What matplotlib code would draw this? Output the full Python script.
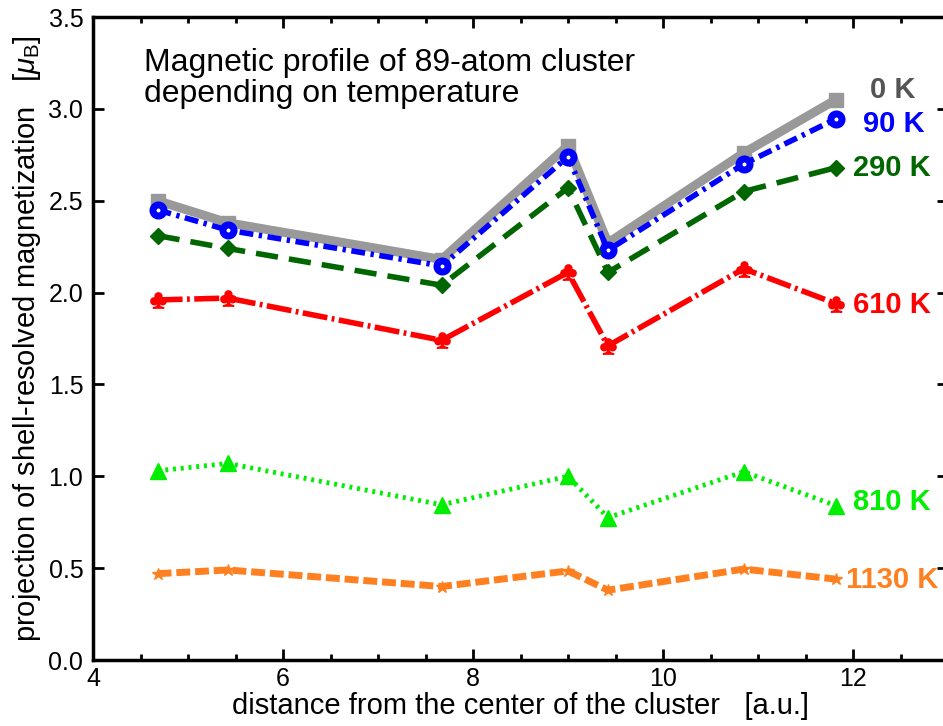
"""Magnetic profile of an 89-atom cluster for several temperatures."""

from matplotlib import pyplot
from matplotlib.ticker import MultipleLocator

# Distance of each shell from the cluster center [a.u.].
distance = [4.68, 5.42, 7.67, 9.0, 9.42, 10.85, 11.82]

# Shell-resolved magnetization [mu_B] for each temperature.
m_0K = [2.50, 2.38, 2.18, 2.80, 2.27, 2.76, 3.05]
m_90K = [2.45, 2.34, 2.145, 2.74, 2.23, 2.70, 2.945]
m_290K = [2.31, 2.24, 2.04, 2.57, 2.11, 2.55, 2.68]
m_610K = [1.96, 1.97, 1.74, 2.11, 1.71, 2.13, 1.94]
m_810K = [1.03, 1.07, 0.845, 1.00, 0.775, 1.025, 0.84]
m_1130K = [0.47, 0.49, 0.40, 0.485, 0.38, 0.495, 0.44]

labels = ['0 K', '90 K', '290 K', '610 K', '810 K', '1130 K']

pyplot.rc('font', family=['Liberation Sans', 'DejaVu Sans'], size=18)
pyplot.rc('mathtext', fontset='custom', rm='Liberation Sans',
          it='Liberation Sans:italic')

fig = pyplot.figure(figsize=(9.43, 7.26), dpi=100)
ax = fig.add_axes([93 / 943, 66 / 726, 855 / 943, 643 / 726])

ax.plot(distance, m_0K, color='#999999', linewidth=6.5,
        marker='s', markersize=10, zorder=2)
ax.plot(distance, m_90K, color='blue', linewidth=4.0,
        dashes=(2.5, 1, 0.6, 1), marker='o', markersize=8,
        markerfacecolor='white', markeredgewidth=5.0, zorder=3)
ax.plot(distance, m_290K, color='#006600', linewidth=4.0,
        dashes=(4, 2), marker='D', markersize=8, zorder=3)
ax.plot(distance, m_610K, color='red', linewidth=4.0,
        dashes=(4.5, 0.8, 0.5, 0.8), marker=r'$\clubsuit$', markersize=11,
        zorder=3)
ax.plot(distance, m_810K, color='#00ee00', linewidth=3.5,
        dashes=(0.6, 1.0), marker='^', markersize=11, zorder=3)
ax.plot(distance, m_1130K, color='#ff8020', linewidth=5.0,
        dashes=(2, 0.7), marker='*', markersize=9, zorder=3)

# Temperature labels on the right.
label_x = [12.18, 12.1, 12.0, 12.0, 12.0, 11.93]
label_y = [3.10, 2.92, 2.68, 1.93, 0.86, 0.435]
label_colors = ['#555555', 'blue', '#006600', 'red', '#00ee00', '#ff8020']
for text, xt, yt, c in zip(labels, label_x, label_y, label_colors):
    ax.text(xt, yt, text, color=c, fontsize=21, fontweight='bold',
            va='center', ha='left')

ax.text(4.54, 3.33, 'Magnetic profile of 89-atom cluster\n'
        'depending on temperature', fontsize=23, va='top', ha='left',
        linespacing=1.05)

ax.set_xlim(4.0, 13.0)
ax.set_ylim(0.0, 3.5)
ax.xaxis.set_major_locator(MultipleLocator(2))
ax.xaxis.set_minor_locator(MultipleLocator(0.5))
ax.yaxis.set_major_locator(MultipleLocator(0.5))
ax.yaxis.set_major_formatter('{x:.1f}')
ax.tick_params(which='both', direction='in', top=True, right=True,
               width=2.0)
ax.tick_params(which='major', length=8, pad=7)
ax.tick_params(axis='x', which='major', pad=5)
ax.tick_params(which='minor', length=4)
for spine in ax.spines.values():
    spine.set_linewidth(2.5)

ax.set_xlabel('distance from the center of the cluster   [a.u.]',
              fontsize=21, labelpad=1)
ax.set_ylabel(r'projection of shell-resolved magnetization   '
              r'[$\mu_{\mathrm{B}}$]', fontsize=21, labelpad=4)

fig.savefig('out.png', dpi=100)
